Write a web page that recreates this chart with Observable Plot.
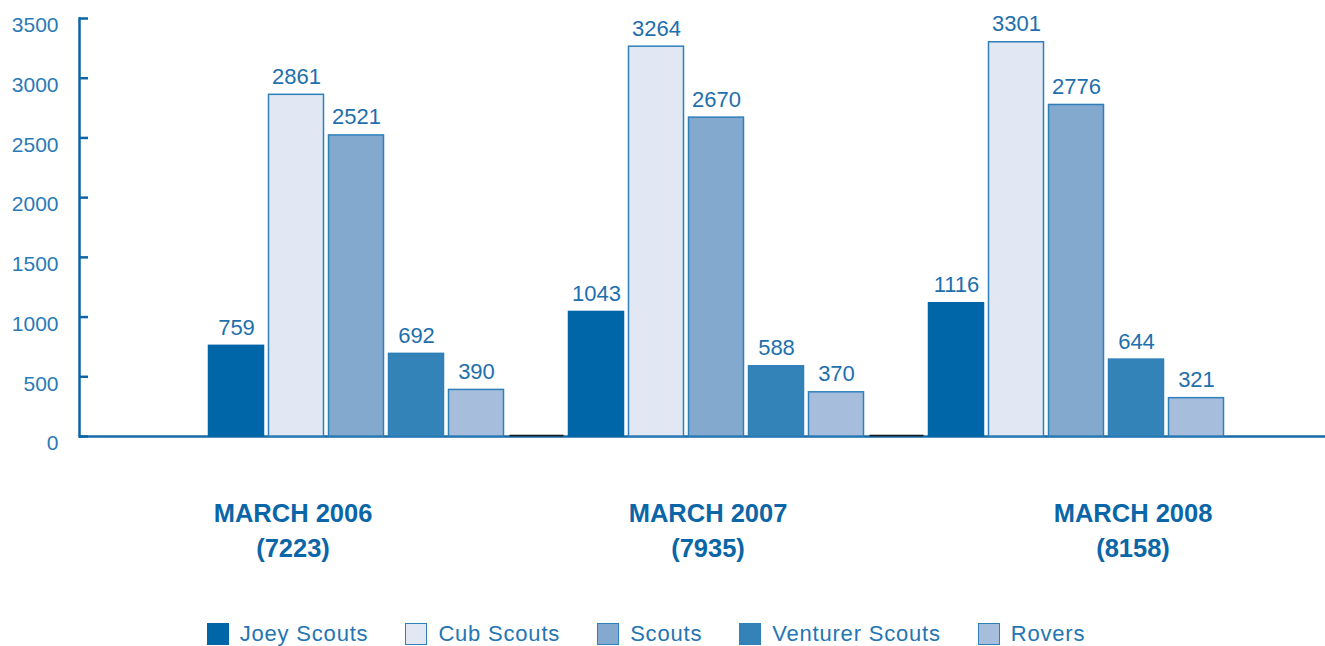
<!DOCTYPE html>
<html><head><meta charset="utf-8">
<script src="https://cdn.jsdelivr.net/npm/d3@7"></script>
<script src="https://cdn.jsdelivr.net/npm/@observablehq/plot@0.6"></script>
<style>
body{margin:0;background:#fff;font-family:"Liberation Sans",Arial,sans-serif;}
#chart svg{display:block;}
#legend{display:flex;justify-content:center;gap:37px;padding-right:33px;margin-top:31px;}
.item{display:flex;align-items:center;gap:11px;font-size:22px;letter-spacing:0.8px;color:#2475b2;line-height:26px;}
.sw{width:20px;height:20px;box-sizing:content-box;border:1.5px solid #2f7fba;}
</style></head><body>
<div id="chart"></div>
<div id="legend"></div>
<script>
const groups = ["MARCH 2006", "MARCH 2007", "MARCH 2008"];
const totals = [7223, 7935, 8158];
const series = ["Joey Scouts", "Cub Scouts", "Scouts", "Venturer Scouts", "Rovers"];
const joey = [759, 1043, 1116];
const cub = [2861, 3264, 3301];
const scouts = [2521, 2670, 2776];
const venturer = [692, 588, 644];
const rovers = [390, 370, 321];
const colors = ["#0066a8", "#e1e8f3", "#83a9cf", "#3383b9", "#a6bedc"];
const yTicks = [0, 500, 1000, 1500, 2000, 2500, 3000, 3500];

const values = [joey, cub, scouts, venturer, rovers];
const rows = [];
series.forEach((s, i) => groups.forEach((g, j) => rows.push({series: s, group: g, value: values[i][j]})));

const W = 1325, H = 590, ML = 79, MT = 18, MB = 154;
const bandStart = 175.5, step = 360;
const inner = d3.scaleBand(series, [0, step]).paddingInner(1/12).paddingOuter(0.5417);
const bw = inner.bandwidth();
const outer = inner(series[0]);
const labelShift = [-63.5, -8.5, 56.5];

const marks = [];
// dark segments on the baseline between groups
marks.push(Plot.tickY(groups.slice(1), {
  x: d => d, y: () => 0, dy: -1, stroke: "#151515", strokeWidth: 1.5,
  insetLeft: -(outer - 6), insetRight: step - (outer - 5)
}));
series.forEach((s, i) => {
  const d = rows.filter(r => r.series === s);
  marks.push(Plot.barY(d, {
    x: "group", y: "value", fill: colors[i],
    stroke: i === 0 ? colors[0] : "#2f7fba", strokeWidth: 1.5,
    insetLeft: inner(s), insetRight: step - inner(s) - bw
  }));
  marks.push(Plot.text(d, {
    x: "group", y: "value", text: r => String(r.value),
    dx: inner(s) + bw / 2 - step / 2, dy: -18,
    fill: "#1e6fad", fontSize: 22, fontFamily: "Liberation Sans, Arial, sans-serif"
  }));
});
groups.forEach((g, j) => {
  marks.push(Plot.text([g], {
    x: d => d, y: () => 0, text: d => `${d}\n(${totals[j]})`,
    dx: labelShift[j], dy: 92, lineHeight: 1.36,
    fill: "#0b66a7", fontSize: 25.5, fontWeight: "bold", letterSpacing: 1,
    fontFamily: "Liberation Sans, Arial, sans-serif"
  }));
});

const chart = Plot.plot({
  width: W, height: H,
  marginLeft: ML, marginRight: 0, marginTop: MT, marginBottom: MB,
  x: {domain: groups, range: [bandStart, bandStart + step * groups.length], padding: 0, axis: null},
  y: {domain: [0, 3500], axis: null},
  style: {fontFamily: "Liberation Sans, Arial, sans-serif", background: "#fff"},
  marks: [
    Plot.ruleY([0], {stroke: "#1a6aa8", strokeWidth: 2.5}),
    ...marks,
    Plot.axisY(yTicks, {tickSize: 0, tickPadding: 21, dy: 7, fontSize: 21, color: "#2a7ab8", label: null, tickFormat: d => String(d)}),
    Plot.tickY(yTicks, {y: d => d, stroke: "#0b64a5", strokeWidth: 2.5, insetRight: W - ML - 9}),
    Plot.frame({anchor: "left", stroke: "#0b64a5", strokeWidth: 2.5})
  ]
});
document.getElementById("chart").appendChild(chart);

const legend = document.getElementById("legend");
series.forEach((s, i) => {
  const it = document.createElement("div");
  it.className = "item";
  const sw = document.createElement("div");
  sw.className = "sw";
  sw.style.background = colors[i];
  if (i === 0) sw.style.borderColor = colors[0];
  const t = document.createElement("span");
  t.textContent = s;
  it.appendChild(sw); it.appendChild(t);
  legend.appendChild(it);
});
</script>
</body></html>
